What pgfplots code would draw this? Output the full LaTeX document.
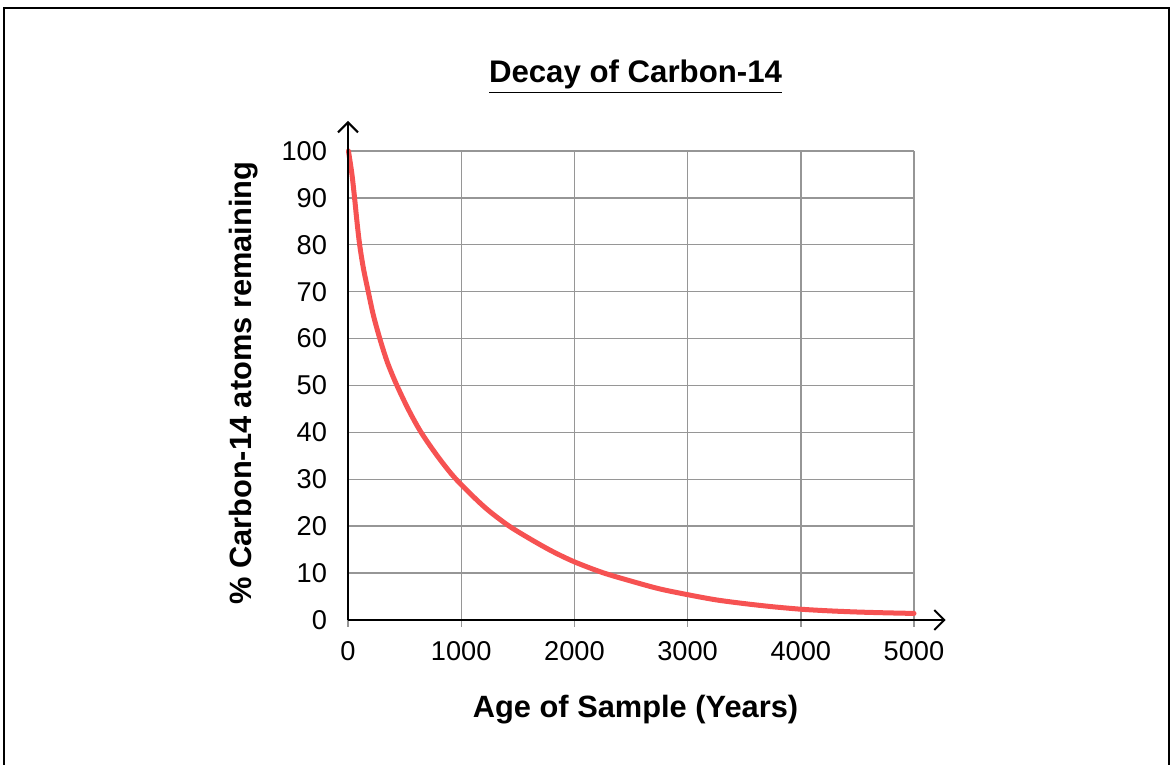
\documentclass[border=0pt]{standalone}
\usepackage{pgfplots}
\pgfplotsset{compat=1.18}
\usepackage{fontspec}
\setmainfont{Liberation Sans}
\usetikzlibrary{arrows.meta}
\definecolor{curvered}{RGB}{246,82,82}
\definecolor{gridgray}{RGB}{150,150,150}
\begin{document}
\begin{tikzpicture}[x=0.5pt,y=0.5pt]
\useasboundingbox (0,0) rectangle (1172,765);
\draw[line width=1.15pt] (4,-20) -- (4,757) -- (1169,757) -- (1169,-20);
\begin{axis}[
  at={(174pt,72.5pt)}, anchor=south west,
  scale only axis, width=283pt, height=234.5pt,
  xmin=0, xmax=5000, ymin=0, ymax=100,
  enlargelimits=false, clip=false,
  axis lines=left,
  axis line style={line width=1pt, -},
  xtick={0,1000,...,5000}, ytick={0,10,...,100},
  grid=major,
  major grid style={gridgray, line width=0.7pt},
  tick align=outside,
  major tick length=3.5pt,
  xtick style={gridgray, line width=0.7pt},
  ytick style={draw=none},
  /pgf/number format/assume math mode=true,
  /pgf/number format/1000 sep={},
  tick label style={font=\fontsize{13.6}{16}\selectfont},
  xticklabel style={anchor=north, yshift=-3.5pt},
  yticklabel style={anchor=east, xshift=-3.5pt},
  title={\underline{Decay of Carbon-14}},
  title style={font=\fontsize{15.6}{18}\selectfont\bfseries, at={(axis description cs:0.508,1.12)}, anchor=base},
  xlabel={Age of Sample (Years)},
  xlabel style={font=\fontsize{15.4}{18}\selectfont\bfseries, at={(axis description cs:0.508,-0.207)}, anchor=base},
  ylabel={\% Carbon-14 atoms remaining},
  ylabel style={font=\fontsize{15.4}{18}\selectfont\bfseries, at={(axis description cs:-0.171,0.505)}, anchor=base, rotate=0},
]
\addplot[curvered, line width=2.5pt, smooth, line cap=round] coordinates {
(4,100) (35,95) (58,90) (79,85) (103,80) (136,75) (179,70) (224,65) (281,60)
(347,55) (425,50.4) (531,45) (646,40) (795,34.8) (955,30) (1200,24.2) (1407,20.3)
(1601,17.4) (1800,14.7) (2000,12.4) (2250,10.1) (2500,8.3) (2750,6.65) (3000,5.4)
(3250,4.3) (3500,3.5) (3750,2.83) (4000,2.3) (4250,1.95) (4500,1.7) (4750,1.53) (5000,1.4)
};
\draw[line width=1pt, -{Straight Barb[length=5pt,width=10pt,line width=1pt]}] (axis cs:0,0) -- (axis cs:5280,0);
\draw[line width=1pt, -{Straight Barb[length=5pt,width=10pt,line width=1pt]}] (axis cs:0,0) -- (axis cs:0,106.4);
\end{axis}
\end{tikzpicture}
\end{document}
